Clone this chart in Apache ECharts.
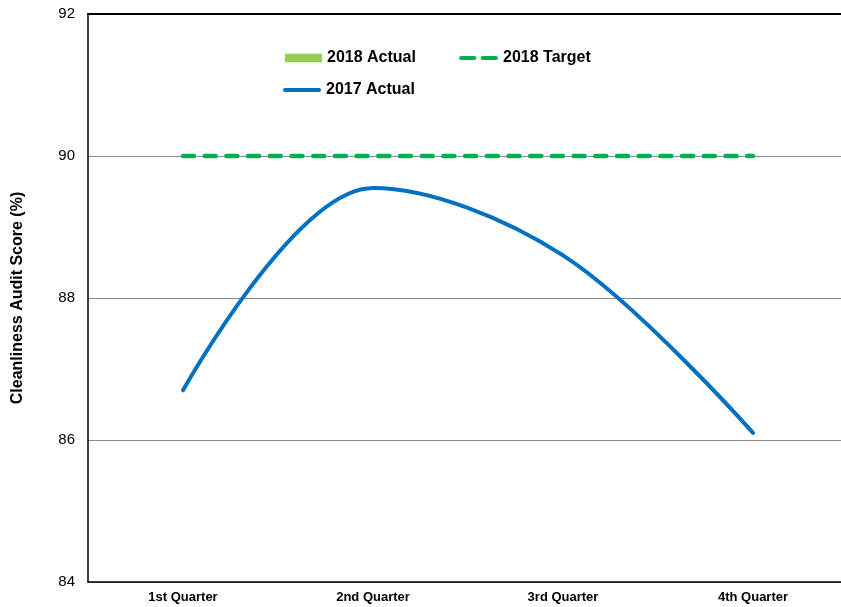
<!DOCTYPE html>
<html>
<head>
<meta charset="utf-8">
<script src="https://cdn.jsdelivr.net/npm/echarts@6/dist/echarts.min.js"></script>
<style>html,body{margin:0;padding:0;background:#fff}#c{width:841px;height:607px}</style>
</head>
<body>
<div id="c"></div>
<script>
const categories = ['1st Quarter', '2nd Quarter', '3rd Quarter', '4th Quarter'];
const actual2018 = [null, null, null, null];
const target2018 = [90, 90, 90, 90];
const actual2017 = [86.7, 89.55, 88.6, 86.1];
const yTicks = { min: 84, max: 92, interval: 2 };

const chart = echarts.init(document.getElementById('c'), null, { renderer: 'canvas' });
const font = 'Liberation Sans, Arial, sans-serif';
const legendText = { fontFamily: font, fontSize: 16, fontWeight: 'bold', color: '#000' };
const roundLine = 'path://M2,0 L36,0 A2,2 0 0 1 36,4 L2,4 A2,2 0 0 1 2,0 Z';
const dashIcon = 'path://M2,0 L15,0 A2,2 0 0 1 15,4 L2,4 A2,2 0 0 1 2,0 Z M23,0 L36,0 A2,2 0 0 1 36,4 L23,4 A2,2 0 0 1 23,0 Z';
chart.setOption({
  animation: false,
  backgroundColor: '#fff',
  grid: { left: 88, right: -7, top: 14, bottom: 25, containLabel: false, outerBoundsMode: 'none' },
  legend: [
    { data: [{ name: '2018 Actual', icon: 'rect' }], left: 285, top: 50, padding: 0, itemWidth: 37, itemHeight: 8.5,
      textStyle: legendText },
    { data: [{ name: '2018 Target', icon: dashIcon }], left: 459, top: 50, padding: 0, itemWidth: 39, itemHeight: 4.5,
      textStyle: legendText },
    { data: [{ name: '2017 Actual', icon: roundLine }], left: 283, top: 82, padding: 0, itemWidth: 38, itemHeight: 4,
      textStyle: legendText }
  ],
  xAxis: [
    { type: 'category', data: categories, boundaryGap: true,
      axisLine: { lineStyle: { color: '#000', width: 1.5 } },
      axisTick: { show: false },
      axisLabel: { fontFamily: font, fontSize: 13, fontWeight: 'bold', color: '#000', margin: 9, interval: 0 } },
    { type: 'category', data: categories, position: 'top', boundaryGap: true,
      axisLine: { show: true, lineStyle: { color: '#000', width: 2 } },
      axisTick: { show: false }, axisLabel: { show: false } }
  ],
  yAxis: {
    type: 'value', min: yTicks.min, max: yTicks.max, interval: yTicks.interval,
    name: 'Cleanliness Audit Score (%)', nameLocation: 'middle', nameGap: 62, nameRotate: 90,
    nameTextStyle: { fontFamily: font, fontSize: 16, fontWeight: 'bold', color: '#000' },
    axisLine: { show: true, lineStyle: { color: '#000', width: 1.5 } },
    axisTick: { show: false },
    axisLabel: { fontFamily: font, fontSize: 15, color: '#000', margin: 13 },
    splitLine: { show: true, lineStyle: { color: '#8c8c8c', width: 1 } }
  },
  series: [
    { name: '2018 Actual', type: 'bar', data: actual2018, itemStyle: { color: '#92D050' } },
    { name: '2018 Target', type: 'line', data: target2018, symbol: 'none',
      lineStyle: { color: '#00B050', width: 4.5, type: [11, 10.7], cap: 'round' },
      itemStyle: { color: '#00B050' } },
    { name: '2017 Actual', type: 'line', data: actual2017, symbol: 'none', smooth: 0.35,
      lineStyle: { color: '#0070C0', width: 4, cap: 'round' },
      itemStyle: { color: '#0070C0' } }
  ]
});
</script>
</body>
</html>
